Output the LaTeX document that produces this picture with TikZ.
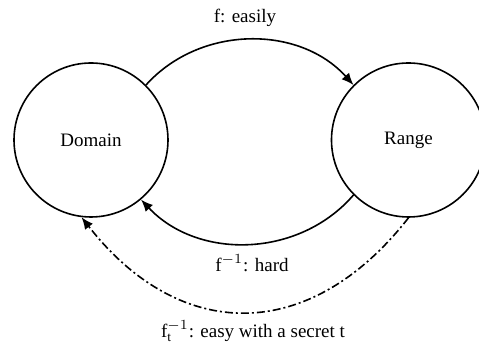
\documentclass[tikz,border=0pt]{standalone}
\usepackage{fontspec}
\setmainfont{Liberation Serif}
\usetikzlibrary{arrows.meta}
\tikzstyle{Set}=[circle, minimum size=77pt, inner sep=0pt, draw=black, line width=0.8pt]
\tikzstyle{Map}=[line width=0.8pt, -{Latex[length=6pt,width=5pt]}]
\tikzstyle{Trap}=[Map, dash pattern=on 4pt off 1.5pt on 1pt off 1.5pt]

\begin{document}
\begin{tikzpicture}[x=0.5pt, y=0.5pt, font=\fontsize{9.5}{11}\selectfont]
    \useasboundingbox (0,0) rectangle (479,347);
    \path
    (91,207) node[Set] (dom) {Domain}
    (408.5,207) node[Set] (rng) {Range};

    \path (245,329) node (easy) {f: easily}
    (252,84) node (hard) {$\mathrm{f}^{-1}$: hard}
    (253,16) node (trap) {$\mathrm{f}_{\mathrm{t}}^{-1}$: easy with a secret t};

    \draw[Map] (dom.45) to[bend left=48] (rng.135);
    \draw[Map] (rng.225) to[bend left=48] (dom.-50);
    \draw[Trap] (rng.-90) to[out=-128, in=-52, looseness=1.25] (dom.-97);
\end{tikzpicture}
\end{document}
